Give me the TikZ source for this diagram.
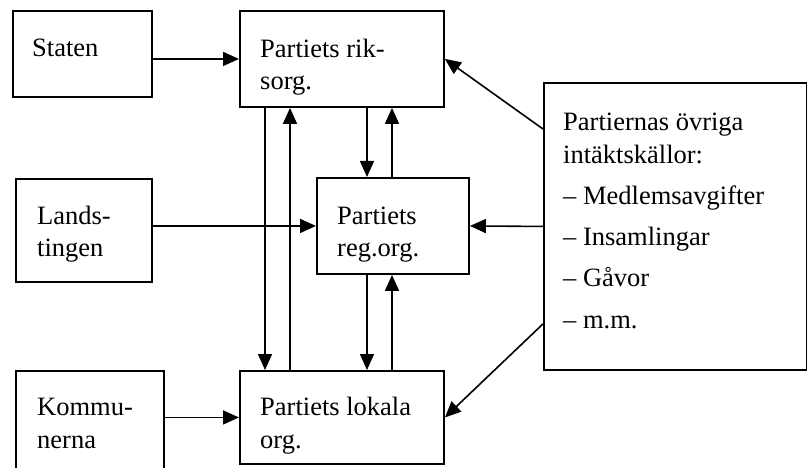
\documentclass[tikz,border=0pt]{standalone}
\usepackage{fontspec}
\setmainfont{Liberation Serif}
\usetikzlibrary{arrows.meta}
\begin{document}
\begin{tikzpicture}[x=1pt,y=-1pt,
  box/.style={draw,line width=1.9pt,rectangle,inner sep=0pt,anchor=north west},
  txt/.style={anchor=base west,inner sep=0pt,align=left,font=\fontsize{26.5}{32.5}\selectfont},
  conn/.style={line width=1.6pt,-{Triangle[length=16pt,width=14pt]}}]
\useasboundingbox (0,0) rectangle (807,468);
\clip (0,0) rectangle (807,468);
% boxes
\node[box,minimum width=139pt,minimum height=86pt] (staten) at (12,10) {};
\node[box,minimum width=204pt,minimum height=96pt] (riks) at (239,10) {};
\node[box,minimum width=136pt,minimum height=103pt] (land) at (15,178) {};
\node[box,minimum width=152pt,minimum height=96pt] (reg) at (316,177) {};
\node[box,minimum width=148pt,minimum height=120pt] (komm) at (15,370) {};
\node[box,minimum width=204pt,minimum height=93pt] (lok) at (239,370) {};
\node[box,minimum width=263pt,minimum height=287pt] (ovr) at (543,82) {};
% texts (base = baseline of last line)
\node[txt] (statenT) at (32,57) {Staten};
\node[txt] (riksT) at (260,90) {Partiets rik-\\sorg.};
\node[txt] (landT) at (37,257) {Lands-\\tingen};
\node[txt] (regT) at (337,257) {Partiets\\reg.org.};
\node[txt] (kommT) at (37,448) {Kommu-\\nerna};
\node[txt] (lokT) at (260,448) {Partiets lokala\\org.};
\node[txt] (ovrT) at (563,328) {Partiernas övriga\\intäktskällor:\\[9pt]– Medlemsavgifter\\[8pt]– Insamlingar\\[9pt]– Gåvor\\[9pt]– m.m.};
% connectors
\draw[conn] (staten.east |- riks.west) -- (riks.west);
\draw[conn] (land.east |- reg.west) -- (reg.west);
\draw[conn] (komm.east |- lok.west) -- (lok.west);
\draw[conn] ([xshift=26pt]riks.south west) -- ([xshift=26pt]lok.north west);
\draw[conn] ([xshift=51pt]lok.north west) -- ([xshift=51pt]riks.south west);
\draw[conn] ([xshift=128pt]riks.south west) -- ([xshift=51pt]reg.north west);
\draw[conn] ([xshift=76pt]reg.north west) -- ([xshift=153pt]riks.south west);
\draw[conn] ([xshift=51pt]reg.south west) -- ([xshift=128pt]lok.north west);
\draw[conn] ([xshift=153pt]lok.north west) -- ([xshift=76pt]reg.south west);
\draw[conn] ([yshift=-47pt]ovr.north west) -- (riks.east);
\draw[conn] (ovr.west) -- (reg.east);
\draw[conn] ([yshift=47pt]ovr.south west) -- (lok.east);
\end{tikzpicture}
\end{document}
